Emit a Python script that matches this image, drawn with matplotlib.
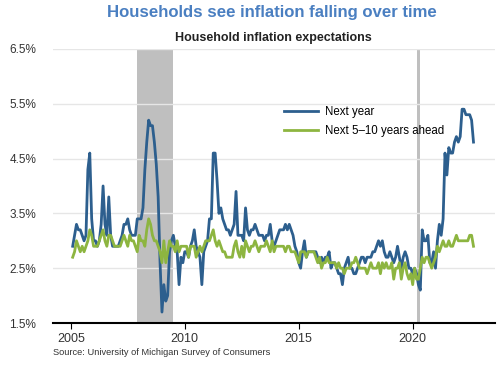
import matplotlib
matplotlib.use('Agg')
import matplotlib.pyplot as plt
import numpy as np

plt.rcParams['font.family'] = ['Liberation Sans', 'DejaVu Sans']

# monthly survey medians, Jan 2005 - Aug 2022 (%)
years = list(range(2005, 2023))
next_year = [
    2.9, 3.1, 3.3, 3.2, 3.2, 3.1, 3.0, 3.1, 4.3, 4.6, 3.4, 3.0,  # 2005
    3.0, 2.9, 3.0, 3.3, 4.0, 3.3, 3.1, 3.8, 3.1, 2.9, 2.9, 2.9,  # 2006
    2.9, 3.0, 3.1, 3.3, 3.3, 3.4, 3.2, 3.1, 3.1, 3.1, 3.4, 3.4,  # 2007
    3.4, 3.6, 4.3, 4.8, 5.2, 5.1, 5.1, 4.8, 4.4, 3.8, 2.6, 1.7,  # 2008
    2.2, 1.9, 2.0, 2.8, 3.0, 3.1, 2.9, 2.8, 2.2, 2.7, 2.6, 2.8,  # 2009
    2.8, 2.7, 2.9, 3.0, 3.2, 2.9, 2.8, 2.7, 2.2, 2.8, 2.9, 3.0,  # 2010
    3.4, 3.4, 4.6, 4.6, 4.1, 3.5, 3.6, 3.4, 3.3, 3.2, 3.2, 3.1,  # 2011
    3.2, 3.3, 3.9, 3.1, 3.1, 3.1, 3.0, 3.6, 3.2, 3.1, 3.2, 3.2,  # 2012
    3.3, 3.2, 3.1, 3.1, 3.1, 3.0, 3.1, 3.1, 3.3, 3.0, 2.9, 3.0,  # 2013
    3.1, 3.2, 3.2, 3.2, 3.3, 3.2, 3.3, 3.2, 3.1, 2.9, 2.8, 2.6,  # 2014
    2.5, 2.8, 3.0, 2.7, 2.8, 2.8, 2.8, 2.8, 2.8, 2.7, 2.6, 2.7,  # 2015
    2.6, 2.7, 2.7, 2.8, 2.5, 2.6, 2.6, 2.5, 2.4, 2.4, 2.2, 2.5,  # 2016
    2.6, 2.7, 2.5, 2.5, 2.4, 2.4, 2.5, 2.6, 2.7, 2.7, 2.6, 2.7,  # 2017
    2.7, 2.7, 2.8, 2.8, 2.9, 3.0, 2.9, 3.0, 2.8, 2.7, 2.7, 2.8,  # 2018
    2.7, 2.6, 2.7, 2.9, 2.7, 2.5, 2.7, 2.8, 2.7, 2.5, 2.5, 2.4,  # 2019
    2.5, 2.4, 2.2, 2.1, 3.2, 3.0, 3.0, 3.1, 2.6, 2.6, 2.8, 2.5,  # 2020
    3.0, 3.3, 3.1, 3.4, 4.6, 4.2, 4.7, 4.6, 4.6, 4.8, 4.9, 4.8,  # 2021
    4.9, 5.4, 5.4, 5.3, 5.3, 5.3, 5.2, 4.8,                      # 2022
]
long_run = [
    2.7, 2.8, 3.0, 2.9, 2.8, 2.9, 2.8, 2.9, 3.0, 3.2, 3.1, 2.9,  # 2005
    2.9, 2.9, 3.0, 3.1, 3.2, 3.0, 2.9, 3.1, 3.1, 3.0, 2.9, 2.9,  # 2006
    2.9, 2.9, 3.0, 3.1, 3.0, 2.9, 3.1, 3.0, 3.0, 2.9, 2.8, 3.1,  # 2007
    3.0, 3.0, 2.9, 3.2, 3.4, 3.3, 3.1, 3.0, 3.0, 2.9, 2.8, 2.6,  # 2008
    3.0, 2.6, 2.8, 3.0, 2.9, 2.9, 2.8, 3.0, 2.8, 2.9, 2.9, 2.9,  # 2009
    2.9, 2.7, 2.9, 2.9, 2.9, 2.7, 2.8, 2.9, 2.8, 2.9, 3.0, 3.0,  # 2010
    3.0, 3.1, 3.2, 3.0, 2.9, 3.0, 2.9, 2.8, 2.8, 2.7, 2.7, 2.7,  # 2011
    2.7, 2.9, 3.0, 2.8, 2.7, 2.9, 2.7, 3.0, 2.9, 2.8, 2.9, 2.9,  # 2012
    3.0, 2.9, 2.8, 2.9, 2.9, 2.9, 3.0, 2.9, 2.8, 3.0, 2.8, 2.9,  # 2013
    2.9, 2.9, 2.9, 2.9, 2.8, 2.9, 2.9, 2.8, 2.8, 2.8, 2.7, 2.6,  # 2014
    2.8, 2.8, 2.8, 2.7, 2.8, 2.8, 2.8, 2.8, 2.7, 2.6, 2.7, 2.5,  # 2015
    2.6, 2.6, 2.7, 2.6, 2.6, 2.6, 2.6, 2.5, 2.6, 2.5, 2.5, 2.4,  # 2016
    2.5, 2.5, 2.5, 2.6, 2.6, 2.7, 2.6, 2.5, 2.5, 2.5, 2.5, 2.4,  # 2017
    2.5, 2.6, 2.5, 2.5, 2.5, 2.6, 2.4, 2.6, 2.5, 2.6, 2.5, 2.5,  # 2018
    2.6, 2.3, 2.5, 2.5, 2.6, 2.3, 2.5, 2.6, 2.4, 2.3, 2.4, 2.2,  # 2019
    2.5, 2.3, 2.3, 2.5, 2.7, 2.6, 2.7, 2.7, 2.6, 2.5, 2.6, 2.7,  # 2020
    2.9, 2.8, 2.9, 3.0, 2.9, 2.9, 3.0, 2.9, 2.9, 3.0, 3.1, 3.0,  # 2021
    3.0, 3.0, 3.0, 3.0, 3.0, 3.1, 3.1, 2.9,                      # 2022
]
recessions = [(2007.92, 2009.5), (2020.17, 2020.33)]
yticks = [1.5, 2.5, 3.5, 4.5, 5.5, 6.5]
xticks = [2005, 2010, 2015, 2020]

# month-end positions in decimal years
t = np.array([y + m / 12 for y in years for m in range(1, 13)])[:len(next_year)]

blue = '#2d5f8e'
green = '#8db540'

fig = plt.figure(figsize=(5, 3.65), dpi=100)
ax = fig.add_axes([0.106, 0.115, 0.884, 0.751])

for start, end in recessions:
    ax.axvspan(start, end, color='#bfbfbf', lw=0, zorder=1)

ax.plot(t, next_year, color=blue, lw=2.0, label='Next year', zorder=3)
ax.plot(t, long_run, color=green, lw=2.0, label='Next 5\u201310 years ahead', zorder=4)

ax.set_xlim(2004.22, 2023.61)
ax.set_ylim(1.5, 6.5)
ax.set_yticks(yticks)
ax.set_yticklabels(['{:.1f}%'.format(v) for v in yticks])
ax.set_xticks(xticks)
ax.grid(axis='y', color='#e6e6e6', lw=1, zorder=0)
ax.tick_params(axis='y', length=0, pad=12, labelsize=8.5, labelcolor='#333333')
ax.tick_params(axis='x', length=4, width=0.8, pad=3, labelsize=9, labelcolor='#333333')

for side in ['left', 'right', 'top']:
    ax.spines[side].set_visible(False)
ax.spines['bottom'].set_linewidth(1.5)
ax.spines['bottom'].set_zorder(5)

ax.legend(loc='upper left', bbox_to_anchor=(0.512, 0.809), frameon=False,
          fontsize=8.3, handlelength=2.95, handletextpad=0.6, labelspacing=0.59,
          borderaxespad=0)

fig.text(0.543, 0.967, 'Households see inflation falling over time', ha='center', va='center',
         fontsize=12.1, fontweight='bold', color='#4a7fc1')
fig.text(0.547, 0.896, 'Household inflation expectations', ha='center', va='center',
         fontsize=9, fontweight='bold', color='#222222')
fig.text(0.106, 0.033, 'Source: University of Michigan Survey of Consumers', ha='left', va='center',
         fontsize=6.7, color='#333333')

fig.savefig('out.png', dpi=100)
